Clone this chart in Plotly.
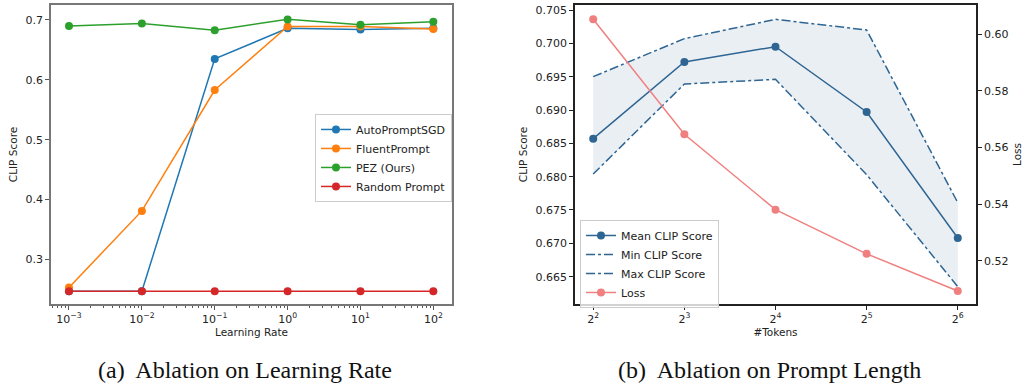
import plotly.graph_objects as go

# ---- Data: (a) Ablation on Learning Rate ----
learning_rates = [1e-3, 1e-2, 1e-1, 1e0, 1e1, 1e2]
lr_tick_text = ["10<sup>−3</sup>", "10<sup>−2</sup>", "10<sup>−1</sup>", "10<sup>0</sup>", "10<sup>1</sup>", "10<sup>2</sup>"]
autoprompt_sgd = [0.247, 0.247, 0.635, 0.686, 0.684, 0.686]
fluent_prompt = [0.253, 0.381, 0.583, 0.689, 0.689, 0.685]
pez_ours = [0.690, 0.694, 0.683, 0.701, 0.692, 0.697]
random_prompt = [0.247, 0.247, 0.247, 0.247, 0.247, 0.247]
left_y_ticks = [0.3, 0.4, 0.5, 0.6, 0.7]

# ---- Data: (b) Ablation on Prompt Length ----
num_tokens = [4, 8, 16, 32, 64]
token_tick_text = ["2<sup>2</sup>", "2<sup>3</sup>", "2<sup>4</sup>", "2<sup>5</sup>", "2<sup>6</sup>"]
mean_clip = [0.6857, 0.6972, 0.6995, 0.6897, 0.6708]
min_clip = [0.6804, 0.6939, 0.6946, 0.6803, 0.6635]
max_clip = [0.6950, 0.7007, 0.7036, 0.7020, 0.6761]
loss = [0.6053, 0.5647, 0.5381, 0.5225, 0.5094]
right_y_ticks = [0.665, 0.670, 0.675, 0.680, 0.685, 0.690, 0.695, 0.700, 0.705]
loss_ticks = [0.52, 0.54, 0.56, 0.58, 0.60]

TAB_BLUE, TAB_ORANGE, TAB_GREEN, TAB_RED = "#1f77b4", "#ff7f0e", "#2ca02c", "#d62728"
MEAN_C = "#2e6592"
FILL_C = "rgba(46,101,146,0.10)"
LOSS_C = "#f08080"
FONT = "DejaVu Sans"

fig = go.Figure()

# Left panel
for rank, (name, vals, col) in enumerate([("AutoPromptSGD", autoprompt_sgd, TAB_BLUE),
                                          ("FluentPrompt", fluent_prompt, TAB_ORANGE),
                                          ("PEZ (Ours)", pez_ours, TAB_GREEN),
                                          ("Random Prompt", random_prompt, TAB_RED)]):
    fig.add_trace(go.Scatter(x=learning_rates, y=vals, mode="lines+markers", name=name,
                             line=dict(color=col, width=1.5), marker=dict(color=col, size=8),
                             xaxis="x", yaxis="y", legend="legend", legendrank=rank + 1))

# Right panel: shaded band between min and max
fig.add_trace(go.Scatter(x=num_tokens, y=min_clip, mode="lines", line=dict(width=0, color=MEAN_C),
                         showlegend=False, hoverinfo="skip", xaxis="x2", yaxis="y2"))
fig.add_trace(go.Scatter(x=num_tokens, y=max_clip, mode="lines", line=dict(width=0, color=MEAN_C),
                         fill="tonexty", fillcolor=FILL_C,
                         showlegend=False, hoverinfo="skip", xaxis="x2", yaxis="y2"))
fig.add_trace(go.Scatter(x=num_tokens, y=min_clip, mode="lines", name="Min CLIP Score",
                         line=dict(color=MEAN_C, width=1.5, dash="dashdot"),
                         xaxis="x2", yaxis="y2", legend="legend2", legendrank=2))
fig.add_trace(go.Scatter(x=num_tokens, y=max_clip, mode="lines", name="Max CLIP Score",
                         line=dict(color=MEAN_C, width=1.5, dash="dashdot"),
                         xaxis="x2", yaxis="y2", legend="legend2", legendrank=3))
fig.add_trace(go.Scatter(x=num_tokens, y=mean_clip, mode="lines+markers", name="Mean CLIP Score",
                         line=dict(color=MEAN_C, width=1.5), marker=dict(color=MEAN_C, size=8),
                         xaxis="x2", yaxis="y2", legend="legend2", legendrank=1))
fig.add_trace(go.Scatter(x=num_tokens, y=loss, mode="lines+markers", name="Loss",
                         line=dict(color=LOSS_C, width=1.5), marker=dict(color=LOSS_C, size=8),
                         xaxis="x2", yaxis="y3", legend="legend2", legendrank=4))

minor_lr = [m * 10 ** e for e in range(-4, 3) for m in range(2, 10)]

tickfont = dict(family=FONT, size=11, color="#222")
labfont = dict(family=FONT, size=10.5, color="#222")
legfont = dict(family=FONT, size=11, color="#222")

fig.update_layout(
    width=1024, height=385,
    margin=dict(l=0, r=0, t=0, b=0),
    paper_bgcolor="white", plot_bgcolor="white",
    font=dict(family=FONT, color="#222"),
    xaxis=dict(domain=[0.0498, 0.4414], type="log", range=[-3.247, 2.256],
               tickvals=learning_rates, ticktext=lr_tick_text, tickfont=tickfont,
               ticks="outside", ticklen=4, tickcolor="#555", showgrid=False, zeroline=False,
               showline=True, linecolor="#777", linewidth=1.5, mirror=True,
               minor=dict(tickvals=minor_lr, ticks="outside", ticklen=2, tickcolor="#555", showgrid=False),
               title=dict(text="Learning Rate", font=labfont, standoff=4),
               anchor="y"),
    yaxis=dict(domain=[0.2104, 0.987], range=[0.2255, 0.725], tickvals=left_y_ticks,
               tickformat=".1f", tickfont=tickfont, ticks="outside", ticklen=4, tickcolor="#555",
               showgrid=False, zeroline=False, showline=True, linecolor="#777", linewidth=1.5, mirror=True,
               title=dict(text="CLIP Score", font=labfont, standoff=6), anchor="x"),
    xaxis2=dict(domain=[0.5615, 0.9531], type="log", range=[0.5418, 1.8663],
                tickvals=num_tokens, ticktext=token_tick_text, tickfont=tickfont,
                ticks="outside", ticklen=4, tickcolor="#222", showgrid=False, zeroline=False,
                showline=True, linecolor="#222", linewidth=1.5, mirror=True,
                title=dict(text="#Tokens", font=labfont, standoff=4), anchor="y2"),
    yaxis2=dict(domain=[0.2104, 0.987], range=[0.6609, 0.70575], tickvals=right_y_ticks,
                tickformat=".3f", tickfont=tickfont, ticks="outside", ticklen=4, tickcolor="#222",
                showgrid=False, zeroline=False, showline=True, linecolor="#222", linewidth=1.5,
                title=dict(text="CLIP Score", font=labfont, standoff=6), anchor="x2"),
    yaxis3=dict(overlaying="y2", side="right", anchor="x2", range=[0.5048, 0.6103],
                tickvals=loss_ticks, tickformat=".2f", tickfont=tickfont, ticks="outside",
                ticklen=4, tickcolor="#222", showgrid=False, zeroline=False, showline=True,
                linecolor="#222", linewidth=1.5,
                title=dict(text="Loss", font=labfont, standoff=6)),
    legend=dict(x=0.3076, y=0.704, xanchor="left", yanchor="top",
                bgcolor="rgba(255,255,255,0.8)", bordercolor="#ccc", borderwidth=1,
                font=legfont, tracegroupgap=0, itemwidth=30, traceorder="normal"),
    legend2=dict(x=0.5664, y=0.4286, xanchor="left", yanchor="top",
                 bgcolor="rgba(255,255,255,0.8)", bordercolor="#ccc", borderwidth=1,
                 font=legfont, tracegroupgap=0, itemwidth=30, traceorder="normal"),
    showlegend=True,
    annotations=[
        dict(text="(a)  Ablation on Learning Rate", x=0.239, y=0.04, xref="paper", yref="paper",
             xanchor="center", yanchor="middle", showarrow=False,
             font=dict(family="Liberation Serif", size=24, color="#111")),
        dict(text="(b)  Ablation on Prompt Length", x=0.751, y=0.04, xref="paper", yref="paper",
             xanchor="center", yanchor="middle", showarrow=False,
             font=dict(family="Liberation Serif", size=24, color="#111")),
    ],
)

fig.write_html("out.html")
